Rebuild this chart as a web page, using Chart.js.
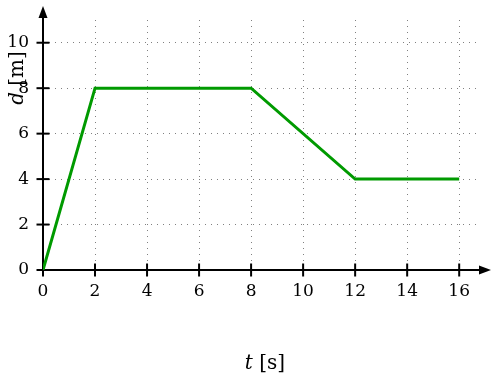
<!DOCTYPE html>
<html>
<head>
<meta charset="utf-8">
<script src="https://cdn.jsdelivr.net/npm/chart.js@4/dist/chart.umd.min.js"></script>
<style>
  html, body { margin: 0; padding: 0; background: #fff; }
  .chart-container { position: relative; width: 491px; height: 378px; }
</style>
</head>
<body>
<div class="chart-container">
  <canvas id="distance-chart"></canvas>
</div>
<script>
// Distance over time
const timeValues = [0, 2, 8, 12, 16];
const distanceValues = [0, 8, 8, 4, 4];

// Tick labels
const xTicks = [0, 2, 4, 6, 8, 10, 12, 14, 16];
const yTicks = [0, 2, 4, 6, 8, 10];

const FONT = '"DejaVu Serif", serif';

// Draws the arrowed axes, crossing tick marks and axis titles
const axesPlugin = {
  id: 'axesPlugin',
  beforeDatasetsDraw(chart) {
    const { ctx, chartArea, scales } = chart;
    const x0 = scales.x.getPixelForValue(0);
    const y0 = scales.y.getPixelForValue(0);
    const xTip = chartArea.right + 11;
    const yTip = chartArea.top - 14;

    ctx.save();
    ctx.strokeStyle = '#000';
    ctx.fillStyle = '#000';
    ctx.lineWidth = 2;

    // x axis
    ctx.beginPath();
    ctx.moveTo(x0, y0);
    ctx.lineTo(xTip - 6, y0);
    ctx.stroke();
    ctx.beginPath();
    ctx.moveTo(xTip, y0);
    ctx.lineTo(xTip - 12, y0 - 4.5);
    ctx.lineTo(xTip - 12, y0 + 4.5);
    ctx.closePath();
    ctx.fill();

    // y axis
    ctx.beginPath();
    ctx.moveTo(x0, y0);
    ctx.lineTo(x0, yTip + 6);
    ctx.stroke();
    ctx.beginPath();
    ctx.moveTo(x0, yTip);
    ctx.lineTo(x0 - 4.5, yTip + 12);
    ctx.lineTo(x0 + 4.5, yTip + 12);
    ctx.closePath();
    ctx.fill();

    // tick marks crossing the axes
    xTicks.forEach(v => {
      const px = scales.x.getPixelForValue(v);
      ctx.beginPath();
      ctx.moveTo(px, y0 - 6.5);
      ctx.lineTo(px, y0 + 6.5);
      ctx.stroke();
    });
    yTicks.forEach(v => {
      const py = scales.y.getPixelForValue(v);
      ctx.beginPath();
      ctx.moveTo(x0 - 6.5, py);
      ctx.lineTo(x0 + 6.5, py);
      ctx.stroke();
    });
    ctx.restore();
  },
  afterDraw(chart) {
    const { ctx } = chart;
    ctx.save();
    ctx.fillStyle = '#000';
    ctx.textBaseline = 'middle';

    // x title: italic t, upright unit
    drawMixed(ctx, 265, 364, 'italic 20px ' + FONT, 't', '20px ' + FONT, ' [s]');

    // y title, rotated
    ctx.translate(18, 78);
    ctx.rotate(-Math.PI / 2);
    drawMixed(ctx, 0, 0, 'italic 20px ' + FONT, 'd', '20px ' + FONT, ' [m]');
    ctx.restore();
  }
};

function drawMixed(ctx, cx, cy, font1, text1, font2, text2) {
  ctx.font = font1;
  const w1 = ctx.measureText(text1).width;
  ctx.font = font2;
  const w2 = ctx.measureText(text2).width;
  const start = cx - (w1 + w2) / 2;
  ctx.textAlign = 'left';
  ctx.font = font1;
  ctx.fillText(text1, start, cy);
  ctx.font = font2;
  ctx.fillText(text2, start + w1, cy);
}

const ctx = document.getElementById('distance-chart').getContext('2d');

new Chart(ctx, {
  type: 'line',
  data: {
    datasets: [{
      data: timeValues.map((t, i) => ({ x: t, y: distanceValues[i] })),
      borderColor: '#009a00',
      borderWidth: 3,
      pointRadius: 0,
      fill: false,
      tension: 0
    }]
  },
  options: {
    responsive: true,
    maintainAspectRatio: false,
    animation: false,
    layout: {
      padding: { top: 20, right: 11, left: 0, bottom: 0 }
    },
    plugins: {
      legend: { display: false },
      tooltip: { enabled: false }
    },
    scales: {
      x: {
        type: 'linear',
        min: 0,
        max: 16.8,
        afterBuildTicks: (scale) => {
          scale.ticks = xTicks.map(v => ({ value: v }));
        },
        afterFit: (scale) => {
          scale.height = 108;
          scale.paddingLeft = 0;
          scale.paddingRight = 0;
        },
        grid: {
          color: '#808080',
          lineWidth: 1,
          drawTicks: false
        },
        border: { display: false, dash: [1, 5] },
        ticks: {
          color: '#000',
          padding: 11,
          font: { family: FONT, size: 17 }
        }
      },
      y: {
        type: 'linear',
        min: 0,
        max: 11,
        afterBuildTicks: (scale) => {
          scale.ticks = yTicks.map(v => ({ value: v }));
        },
        afterFit: (scale) => {
          // labels sit well inside the axis range, so no extra edge padding
          scale.width = 43;
          scale.paddingTop = 0;
          scale.paddingBottom = 0;
        },
        grid: {
          color: '#808080',
          lineWidth: 1,
          drawTicks: false
        },
        border: { display: false, dash: [1, 5] },
        ticks: {
          color: '#000',
          padding: 14,
          font: { family: FONT, size: 17 }
        }
      }
    }
  },
  plugins: [axesPlugin]
});
</script>
</body>
</html>
